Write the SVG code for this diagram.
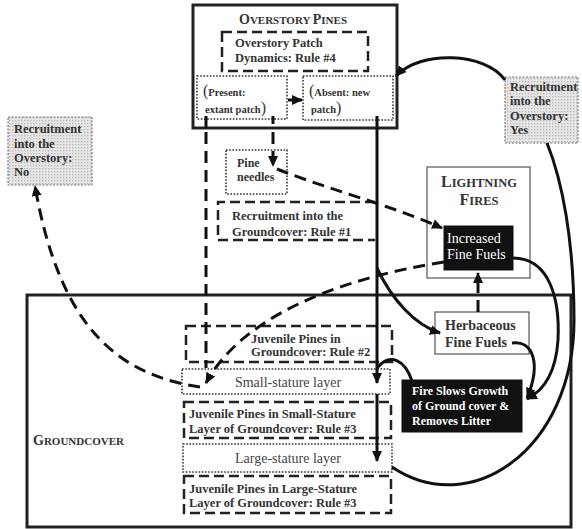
<svg xmlns="http://www.w3.org/2000/svg" width="582" height="529" viewBox="0 0 582 529">
<style>
text{font-family:"Liberation Serif","Times New Roman",serif;fill:#333}
.b{font-weight:bold;font-size:12.5px}
.r{font-size:14px}
.g{fill:#444}
.w{fill:#fff}
.big{fill:none;stroke:#222;stroke-width:3}
.dbox{fill:none;stroke:#222;stroke-width:2.5;stroke-dasharray:10 5}
.dot{fill:#fff;stroke:#333;stroke-width:1.6;stroke-dasharray:1.6 1.6}
.thin{fill:#fff;stroke:#555;stroke-width:1.2}
.blk{fill:#111;stroke:#111}
.grey{fill:url(#dots);stroke:#777;stroke-width:1.2;stroke-dasharray:2 1.5}
.c{fill:none;stroke:#111;stroke-width:3}
.cd{fill:none;stroke:#111;stroke-width:3;stroke-dasharray:12 7}
</style>
<defs>
<marker id="ah" markerUnits="userSpaceOnUse" markerWidth="12" markerHeight="10" refX="10" refY="5" orient="auto">
<path d="M0,0 L11,5 L0,10 z" fill="#111"/>
</marker>
<pattern id="dots" width="3" height="3" patternUnits="userSpaceOnUse">
<rect width="3" height="3" fill="#e6e6e6"/>
<rect width="1.3" height="1.3" fill="#b8b8b8"/>
</pattern>
</defs>
<rect width="582" height="529" fill="#fff"/>

<g id="groundcover">
<rect x="27" y="295" width="544" height="232" class="big"/>
<text x="33" y="445" font-weight="bold" font-size="11"><tspan font-size="14">G</tspan>ROUNDCOVER</text>
</g>

<g id="overstory-pines">
<rect x="193" y="5" width="204" height="123" class="big" fill="#fff"/>
<text x="239" y="24" font-weight="bold" font-size="11"><tspan font-size="14">O</tspan>VERSTORY <tspan font-size="14">P</tspan>INES</text>
</g>

<g id="patch-dynamics">
<rect x="222" y="32" width="146" height="39" class="dbox"/>
<text x="235" y="47" class="b">Overstory Patch</text>
<text x="235" y="62" class="b">Dynamics: Rule #4</text>
</g>

<g id="present">
<rect x="197" y="76" width="90" height="43" class="dot"/>
<text x="203" y="96" font-weight="bold" font-size="10.5"><tspan font-size="16" font-weight="normal">(</tspan>Present:</text>
<text x="205" y="113" font-weight="bold" font-size="10.5">extant patch<tspan font-size="16" font-weight="normal">)</tspan></text>
</g>

<g id="absent">
<rect x="303" y="76" width="90" height="44" class="dot"/>
<text x="309" y="96" font-weight="bold" font-size="10.5"><tspan font-size="16" font-weight="normal">(</tspan>Absent: new</text>
<text x="311" y="113" font-weight="bold" font-size="10.5">patch<tspan font-size="16" font-weight="normal">)</tspan></text>
</g>

<g id="pine-needles">
<rect x="226" y="150" width="61" height="44" class="dot"/>
<text x="237" y="167" font-weight="bold" font-size="12">Pine</text>
<text x="237" y="181" font-weight="bold" font-size="12">needles</text>
</g>

<g id="rule1">
<path d="M375,202 H218 V240 H375" class="dbox"/>
<text x="232" y="220" class="b">Recruitment into the</text>
<text x="232" y="236" class="b">Groundcover: Rule #1</text>
</g>

<g id="rec-no">
<rect x="8" y="117" width="84" height="68" class="grey"/>
<text x="14" y="133" class="b">Recruitment</text>
<text x="14" y="148" class="b">into the</text>
<text x="14" y="162" class="b">Overstory:</text>
<text x="14" y="176" class="b">No</text>
</g>

<g id="rec-yes">
<rect x="505" y="77" width="73" height="66" class="grey"/>
<text x="510" y="91" class="b">Recruitment</text>
<text x="510" y="105" class="b">into the</text>
<text x="510" y="120" class="b">Overstory:</text>
<text x="510" y="134" class="b">Yes</text>
</g>

<g id="lightning">
<rect x="427" y="167" width="103" height="111" class="thin"/>
<text x="479" y="187" text-anchor="middle" font-weight="bold" font-size="12.5"><tspan font-size="16">L</tspan>IGHTNING</text>
<text x="479" y="205" text-anchor="middle" font-weight="bold" font-size="12.5"><tspan font-size="16">F</tspan>IRES</text>
</g>

<g id="increased-fuels">
<rect x="444" y="226" width="69" height="44" class="blk"/>
<text x="447" y="243" class="r w">Increased</text>
<text x="447" y="259" class="r w">Fine Fuels</text>
</g>

<g id="herbaceous">
<rect x="435" y="312" width="94" height="42" class="thin"/>
<text x="445" y="330" font-weight="bold" font-size="14">Herbaceous</text>
<text x="445" y="347" font-weight="bold" font-size="14">Fine Fuels</text>
</g>

<g id="fire-slows">
<rect x="402" y="380" width="120" height="52" class="blk"/>
<text x="412" y="395" font-weight="bold" font-size="12" class="w">Fire Slows Growth</text>
<text x="412" y="410" font-weight="bold" font-size="12" class="w">of Ground cover &amp;</text>
<text x="412" y="425" font-weight="bold" font-size="12" class="w">Removes Litter</text>
</g>

<g id="rule2">
<rect x="186" y="326" width="206" height="36" class="dbox"/>
<text x="251" y="343" class="b">Juvenile Pines in</text>
<text x="251" y="356" class="b">Groundcover: Rule #2</text>
</g>

<g id="small-layer">
<rect x="182" y="369" width="208" height="25" class="dot"/>
<text x="288" y="387" text-anchor="middle" class="r g">Small-stature layer</text>
</g>

<g id="rule3-small">
<rect x="184" y="402" width="207" height="36" class="dbox"/>
<text x="189" y="418" class="b">Juvenile Pines in Small-Stature</text>
<text x="189" y="433" class="b">Layer of Groundcover: Rule #3</text>
</g>

<g id="large-layer">
<rect x="183" y="444" width="209" height="28" class="dot"/>
<text x="288" y="463" text-anchor="middle" class="r g">Large-stature layer</text>
</g>

<g id="rule3-large">
<rect x="184" y="476" width="207" height="37" class="dbox"/>
<text x="189" y="493" class="b">Juvenile Pines in Large-Stature</text>
<text x="189" y="507" class="b">Layer of Groundcover: Rule #3</text>
</g>

<g id="connectors">
<path d="M288,100 H302" class="c" stroke-width="2" marker-end="url(#ah)"/>
<path d="M206,116 V128" class="c"/>
<path d="M273,116 V124" class="c"/>
<path d="M206,132 V368" class="cd"/>
<path d="M273,132 V166" class="cd" marker-end="url(#ah)"/>
<path d="M377,116 V383" class="c" marker-end="url(#ah)"/>
<path d="M377,394 V461" class="c" marker-end="url(#ah)"/>
<path d="M505,80 C485,52 420,50 396,76" class="c" marker-end="url(#ah)"/>
<path d="M392,467 C470,520 574,450 574,320 C574,240 562,180 547,143" class="c"/>
<path d="M513,258 C550,258 560,300 558,340 C556,370 545,390 527,399" class="c" marker-end="url(#ah)"/>
<path d="M512,343 C532,340 542,362 527,398" class="c" marker-end="url(#ah)"/>
<path d="M377,268 C392,300 415,325 440,333" class="c" marker-end="url(#ah)"/>
<path d="M412,381 C405,360 390,352 377,368" class="c"/>
<path d="M277,169 C330,190 390,205 442,228" class="cd" marker-end="url(#ah)"/>
<path d="M444,262 C330,280 240,320 206,383" class="cd" marker-end="url(#ah)"/>
<path d="M200,387 C120,375 60,330 35,186" class="cd" marker-end="url(#ah)"/>
<path d="M478,312 V273" class="cd" marker-end="url(#ah)"/>
</g>
</svg>
